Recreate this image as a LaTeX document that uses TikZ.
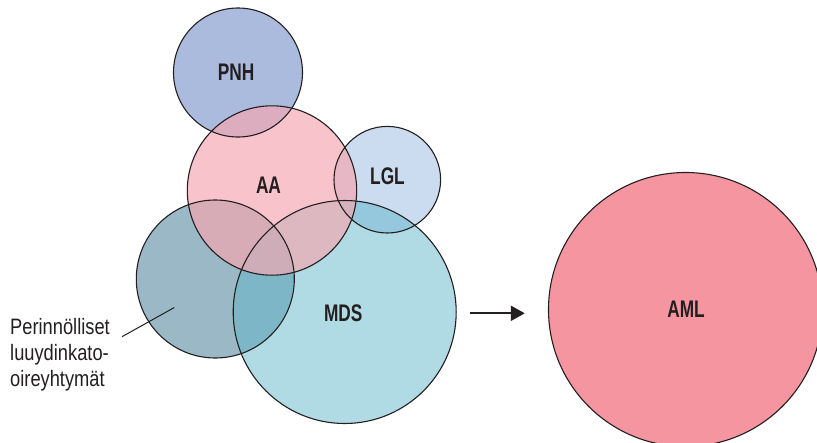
\documentclass[tikz,border=0pt]{standalone}
\usepackage{fontspec}
\setmainfont{Liberation Sans}[FakeStretch=0.82]
\newfontfamily\boldlbl{Liberation Sans}[FakeStretch=0.72]
\usetikzlibrary{arrows.meta,calc}

\definecolor{ink}{RGB}{35,31,32}
\definecolor{pnhcol}{RGB}{170,187,221}
\definecolor{lglcol}{RGB}{203,219,240}
\definecolor{inhcol}{RGB}{155,184,198}
\definecolor{mdscol}{RGB}{97,183,201}
\definecolor{aacol}{RGB}{245,167,177}
\definecolor{amlcol}{RGB}{245,149,160}

\begin{document}
\begin{tikzpicture}[x=1pt,y=-1pt,
  venn/.style={circle, inner sep=0pt, outer sep=0pt},
  ring/.style={draw=ink, line width=1.1pt},
  lbl/.style={text=ink, inner sep=0pt, font={\boldlbl\bfseries\fontsize{24}{28}\selectfont}},
  note/.style={text=ink, inner sep=0pt, align=left, font={\fontsize{22.3}{26}\selectfont}},
  arr/.style={draw=ink, line width=2pt, -{Triangle[length=14pt,width=15pt]}}]
  \clip (0,0) rectangle (817,442);

  % circles, filled first
  \node[venn, fill=pnhcol, minimum size=129pt] (pnh) at (238,72.5) {};
  \node[venn, fill=lglcol, minimum size=106.6pt] (lgl) at (387.3,179.7) {};
  \node[venn, fill=inhcol, minimum size=158pt] (inh) at (215.3,279) {};
  \node[venn, fill=mdscol, fill opacity=.5, minimum size=223pt] (mds) at (344.7,312) {};
  \node[venn, fill=aacol, fill opacity=.68, minimum size=169.4pt] (aa) at (272,190.5) {};
  \node[venn, fill=amlcol, minimum size=274pt] (aml) at (685.5,309.5) {};

  % outlines on top
  \foreach \c in {pnh,lgl,inh,mds,aa,aml}
    \draw[ring] let \p1 = ($(\c.east)-(\c.center)$) in (\c.center) circle[radius=\x1];

  % labels
  \node[lbl] (pnh-l) at (236,72) {PNH};
  \node[lbl] (aa-l) at (268.5,185.5) {AA};
  \node[lbl] (lgl-l) at (387.5,176) {LGL};
  \node[lbl] (mds-l) at (343.3,313) {MDS};
  \node[lbl] (aml-l) at (686,309) {AML};

  \node[note, anchor=north west] (inh-l) at (10,318) {Perinnölliset\\luuydinkato-\\oireyhtymät};
  \coordinate (inh-pt) at (174.3,307.5);
  \draw[draw=ink, line width=1pt] ([xshift=12pt,yshift=-18.7pt]inh-l.north east) -- (inh-pt);

  \draw[arr] ([xshift=14pt,yshift=-1.3pt]mds.east) -- ([xshift=-23.7pt,yshift=-1.3pt]mds.east -| aml.west);
\end{tikzpicture}
\end{document}
